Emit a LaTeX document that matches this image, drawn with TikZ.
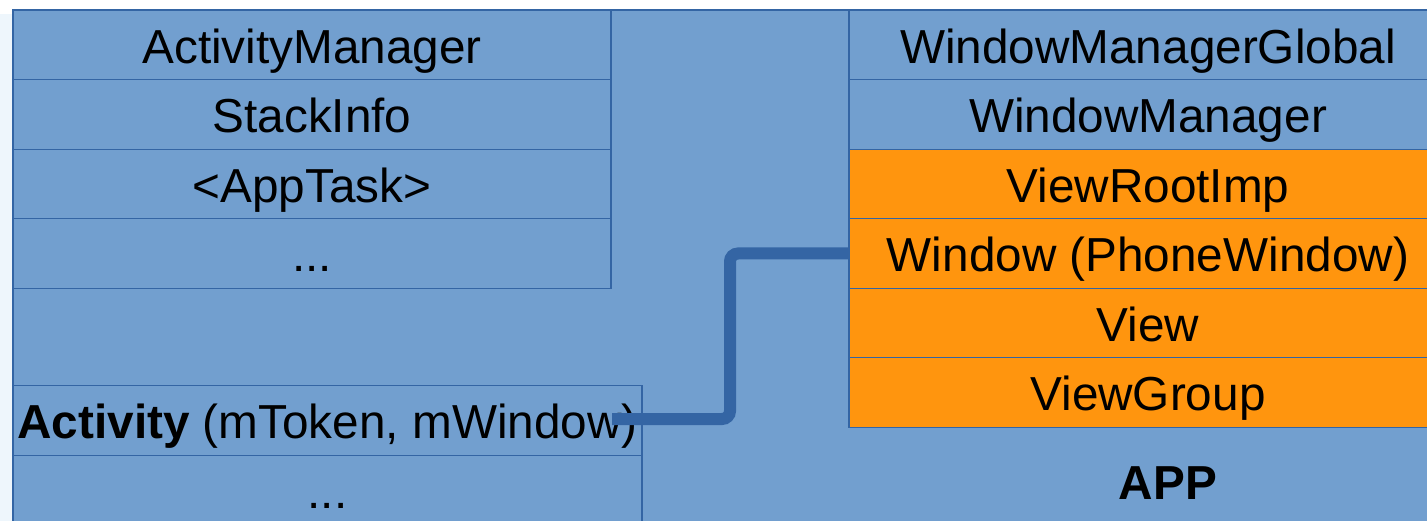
\documentclass[tikz,border=0pt]{standalone}
\usepackage{fontspec}
\setmainfont{Liberation Sans}
\definecolor{skyfill}{HTML}{729FCF}
\definecolor{skyline}{HTML}{3465A4}
\definecolor{orfill}{HTML}{FF950E}
\definecolor{paleleft}{HTML}{EEF6FC}
\tikzset{
  cell/.style={draw=skyline, line width=1.1pt, fill=skyfill, rectangle, inner sep=0pt,
    text height=53pt, text depth=16.5pt, align=center,
    font=\fontsize{47.7}{57}\selectfont},
  ocell/.style={cell, fill=orfill},
  conn/.style={draw=skyline, line width=12pt, rounded corners=8pt},
  applabel/.style={font=\fontsize{47.7}{57}\selectfont\bfseries, inner sep=0pt, anchor=base}
}
\begin{document}
\begin{tikzpicture}[x=1pt,y=-1pt]
\useasboundingbox (0,0) rectangle (1427,521);
\clip (0,0) rectangle (1427,521);
\fill[white] (0,0) rectangle (1427,521);
\fill[paleleft] (0,14) rectangle (13,521);
\draw[skyline, line width=1.1pt, fill=skyfill] (13,10) rectangle (1440,530);
% left stack
\node[cell, minimum width=598pt] (am) at (312,45) {ActivityManager};
\node[cell, minimum width=598pt] (si) at (312,114.5) {StackInfo};
\node[cell, minimum width=598pt] (at) at (312,184) {<AppTask>};
\node[cell, minimum width=598pt] (ld) at (312,253.5) {...};
% activity
\node[cell, minimum width=629pt] (act) at (327.5,420.5) {\textbf{Activity} (mToken, mWindow)};
\node[cell, minimum width=629pt] (actd) at (327.5,490) {...};
% right stack
\node[cell, minimum width=598pt] (wmg) at (1148,45) {WindowManagerGlobal};
\node[cell, minimum width=598pt] (wm) at (1148,114.5) {WindowManager};
\node[ocell, minimum width=598pt] (vri) at (1148,184) {ViewRootImp};
\node[ocell, minimum width=598pt] (win) at (1148,253.5) {Window (PhoneWindow)};
\node[ocell, minimum width=598pt] (view) at (1148,323) {View};
\node[ocell, minimum width=598pt] (vg) at (1148,392.5) {ViewGroup};
\node[applabel] (app) at (1168,499) {APP};
% connector
\coordinate (c1) at (612,419);
\coordinate (c2) at (730,419);
\draw[conn] (c1) -- (c2) |- (win.west);
\end{tikzpicture}
\end{document}
